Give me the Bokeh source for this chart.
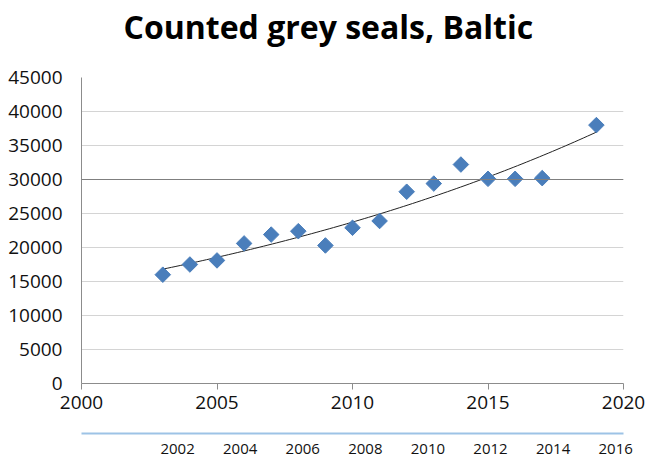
import numpy as np
from bokeh.plotting import figure
from bokeh.models import Range1d, LinearAxis, FixedTicker, Span, Title
from bokeh.embed import file_html
from bokeh.resources import INLINE

title_text = "Counted grey seals, Baltic"
years = [2003, 2004, 2005, 2006, 2007, 2008, 2009, 2010, 2011, 2012,
         2013, 2014, 2015, 2016, 2017, 2019]
seals = [16000, 17500, 18100, 20600, 21900, 22400, 20300, 22900, 23900, 28200,
         29400, 32200, 30100, 30100, 30200, 38000]
y_ticks = list(range(0, 45001, 5000))
x_ticks = [2000, 2005, 2010, 2015, 2020]
extra_ticks = [2002, 2004, 2006, 2008, 2010, 2012, 2014, 2016]
highlight_level = 30000

FONT = "Open Sans"

p = figure(frame_width=542, frame_height=306, output_backend="svg",
           toolbar_location=None, title=None,
           x_range=Range1d(2000, 2020), y_range=Range1d(0, 45000),
           min_border_left=81, min_border_right=27, min_border_top=77,
           min_border_bottom=76, x_axis_location=None, y_axis_location=None)
p.outline_line_color = None
p.background_fill_color = "white"
p.border_fill_color = "white"

# spacer above the frame, then the title outermost
p.add_layout(Title(text=" ", text_font=FONT, text_font_size="21px", standoff=0), "above")
p.add_layout(Title(text=title_text, align="left", offset=42, text_font=FONT,
                   text_font_size="32px", text_font_style="bold",
                   text_color="black", standoff=0), "above")

# main x axis
xa = LinearAxis(ticker=FixedTicker(ticks=x_ticks))
xa.axis_line_color = "#8c8c8c"
xa.major_tick_line_color = "#8c8c8c"
xa.major_tick_out = 6
xa.major_tick_in = 0
xa.minor_tick_line_color = None
xa.major_label_standoff = 6
xa.major_label_text_font = FONT
xa.major_label_text_font_size = "19px"
xa.major_label_text_color = "#111111"
p.add_layout(xa, "below")

# spacer between the two bottom axes
p.add_layout(Title(text=" ", text_font=FONT, text_font_size="15px", standoff=0), "below")

# secondary bottom axis (strip of another chart)
p.extra_x_ranges = {"strip": Range1d(1998.93, 2016.25)}
xb = LinearAxis(x_range_name="strip", ticker=FixedTicker(ticks=extra_ticks))
xb.axis_line_color = "#9dc3e6"
xb.axis_line_width = 2
xb.major_tick_line_color = None
xb.minor_tick_line_color = None
xb.major_tick_out = 0
xb.major_label_standoff = 10
xb.major_label_text_font = FONT
xb.major_label_text_font_size = "15px"
xb.major_label_text_color = "#111111"
p.add_layout(xb, "below")

# y axis
ya = LinearAxis(ticker=FixedTicker(ticks=y_ticks))
ya.axis_line_color = "#8c8c8c"
ya.major_tick_line_color = None
ya.minor_tick_line_color = None
ya.major_label_standoff = 13
ya.major_label_text_font = FONT
ya.major_label_text_font_size = "19px"
ya.major_label_text_color = "#111111"
p.add_layout(ya, "left")

p.xgrid.visible = False
p.ygrid.ticker = FixedTicker(ticks=y_ticks)
p.ygrid.grid_line_color = "#d4d4d4"
p.add_layout(Span(location=highlight_level, dimension="width",
                  line_color="#7f7f7f", line_width=1))

# exponential trendline (least squares on log values, like Excel)
b, a = np.polyfit(years, np.log(seals), 1)
tx = np.linspace(years[0], years[-1], 100)
ty = np.exp(a + b * tx)
p.line(tx, ty, line_color="#222222", line_width=1)

p.scatter(years, seals, marker="square", size=11, angle=np.pi / 4,
          fill_color="#4a7ebb", line_color="#4a7ebb")

open("out.html", "w").write(file_html(p, INLINE))
